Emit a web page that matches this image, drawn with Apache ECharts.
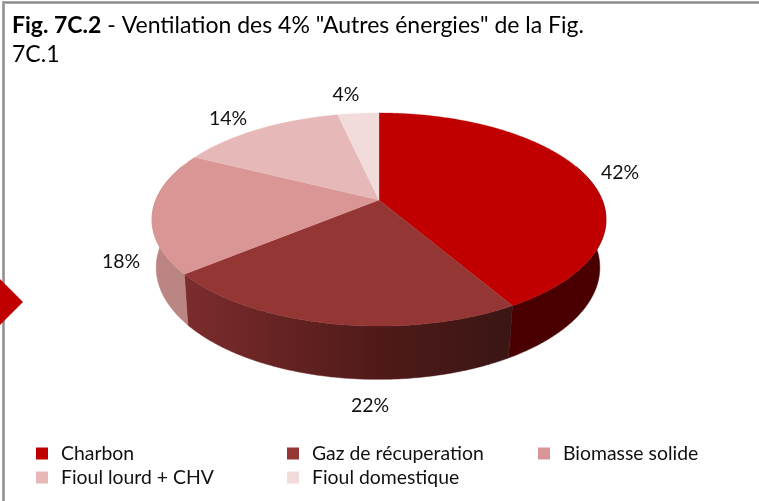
<!DOCTYPE html>
<html><head><meta charset="utf-8">
<style>html,body{margin:0;padding:0;background:#fff}#c{width:759px;height:501px}</style>
<script src="https://cdn.jsdelivr.net/npm/echarts@6/dist/echarts.min.js"></script>
</head><body><div id="c"></div>
<script>
// Data
const categories = ['Charbon', 'Gaz de récuperation', 'Biomasse solide', 'Fioul lourd + CHV', 'Fioul domestique'];
const values = [41.6, 22.4, 18.4, 14.1, 3.5];

// Styles and layout
const FONT = 'Lato, Carlito, Calibri, sans-serif';
const topColors = ['#C00000', '#943634', '#D99694', '#E6B9B8', '#F2DCDB'];
const wallColors = ['#4A0000', null, '#BA8583', '#B09090', '#C0B0B0'];
const legendSpots = [[36, 444], [287, 444], [538, 444], [36, 468], [287, 468]];
const labelSpots = [[620, 173], [370, 406], [121, 262], [228, 119], [346, 95]];
const CX = 379, CY = 200, A = 223.2, B = 103, K = 0.183;
const WALL_CX = 378, WALL_SX = 0.977, WALL_SY = 1.05, WALL_Y0 = 247;

const project = (deg) => {
  const r = deg * Math.PI / 180, u = Math.sin(r), v = -Math.cos(r), d = 1 - K * v;
  return [CX + A * u / d, CY + B * v / d];
};
const lower = (p) => [WALL_CX + WALL_SX * (p[0] - CX), WALL_Y0 + WALL_SY * (p[1] - CY)];
const arc = (a0, a1) => {
  const pts = [], n = Math.max(2, Math.ceil(Math.abs(a1 - a0) * 2));
  for (let i = 0; i <= n; i++) pts.push(project(a0 + (a1 - a0) * i / n));
  return pts;
};
const gazWall = {
  type: 'linear', global: true, x: 185, y: 0, x2: 510, y2: 0,
  colorStops: [{offset: 0, color: '#7C2C2C'}, {offset: 0.6, color: '#4F1A19'}, {offset: 1, color: '#3A1614'}]
};

const total = values.reduce((a, b) => a + b, 0);
let acc = 0;
const series = categories.map((name, i) => {
  const start = acc / total * 360; acc += values[i];
  const end = acc / total * 360;
  return {
    type: 'custom', name, coordinateSystem: 'none',
    itemStyle: {color: topColors[i]},
    data: [[start, end, values[i]]],
    silent: true, animation: false,
    renderItem: (params, api) => {
      const a0 = api.value(0), a1 = api.value(1);
      const rim = arc(a0, a1);
      const children = [];
      // side wall, including the short stretch hidden behind the top near the silhouette
      const w0 = Math.max(a0, 70), w1 = Math.min(a1, 290);
      if (w1 > w0) {
        const top = arc(w0, w1);
        children.push({
          type: 'polygon',
          shape: {points: top.concat(top.slice().reverse().map(lower))},
          style: {fill: wallColors[i] || gazWall, stroke: wallColors[i] || gazWall, lineWidth: 0.5}
        });
      }
      children.push({
        type: 'polygon',
        shape: {points: [[CX, CY]].concat(rim)},
        style: {fill: topColors[i], stroke: topColors[i], lineWidth: 0.3}
      });
      children.push({
        type: 'text', z2: 10,
        style: {
          x: labelSpots[i][0], y: labelSpots[i][1],
          text: Math.round(api.value(2)) + '%',
          fill: '#111', font: '19.5px ' + FONT, align: 'center', verticalAlign: 'middle'
        }
      });
      return {type: 'group', children};
    }
  };
});

const chart = echarts.init(document.getElementById('c'), null, {renderer: 'canvas'});
chart.setOption({
  animation: false,
  backgroundColor: '#fff',
  title: {
    left: 12, top: 11, padding: 0,
    text: '{b|Fig. 7C.2}{n| - Ventilation des 4% "Autres énergies" de la Fig.}\n{n|7C.1}',
    textStyle: {
      rich: {
        b: {fontFamily: FONT, fontSize: 23, fontWeight: 'bold', color: '#000', lineHeight: 29},
        n: {fontFamily: FONT, fontSize: 23, fontWeight: 'normal', color: '#000', lineHeight: 29}
      }
    }
  },
  legend: categories.map((name, i) => ({
    left: legendSpots[i][0], top: legendSpots[i][1], padding: 0,
    data: [name], icon: 'rect', itemWidth: 12, itemHeight: 12, selectedMode: false,
    textStyle: {fontFamily: FONT, fontSize: 19.4, color: '#111', padding: [0, 0, 0, 8]}
  })),
  series,
  graphic: [
    {type: 'rect', shape: {x: 2, y: 1, width: 3, height: 500}, style: {fill: '#A8A8A8'}, z: 5},
    {type: 'rect', shape: {x: 3, y: 1, width: 1, height: 500}, style: {fill: '#8F8F8F'}, z: 5},
    {type: 'rect', shape: {x: 2, y: 1, width: 757, height: 3}, style: {fill: '#A8A8A8'}, z: 5},
    {type: 'rect', shape: {x: 3, y: 2, width: 756, height: 1}, style: {fill: '#8F8F8F'}, z: 5},
    {type: 'polygon', shape: {points: [[-23, 302], [0, 279], [23, 302], [0, 325]]}, style: {fill: '#C00000'}, z: 6}
  ]
});
</script></body></html>
